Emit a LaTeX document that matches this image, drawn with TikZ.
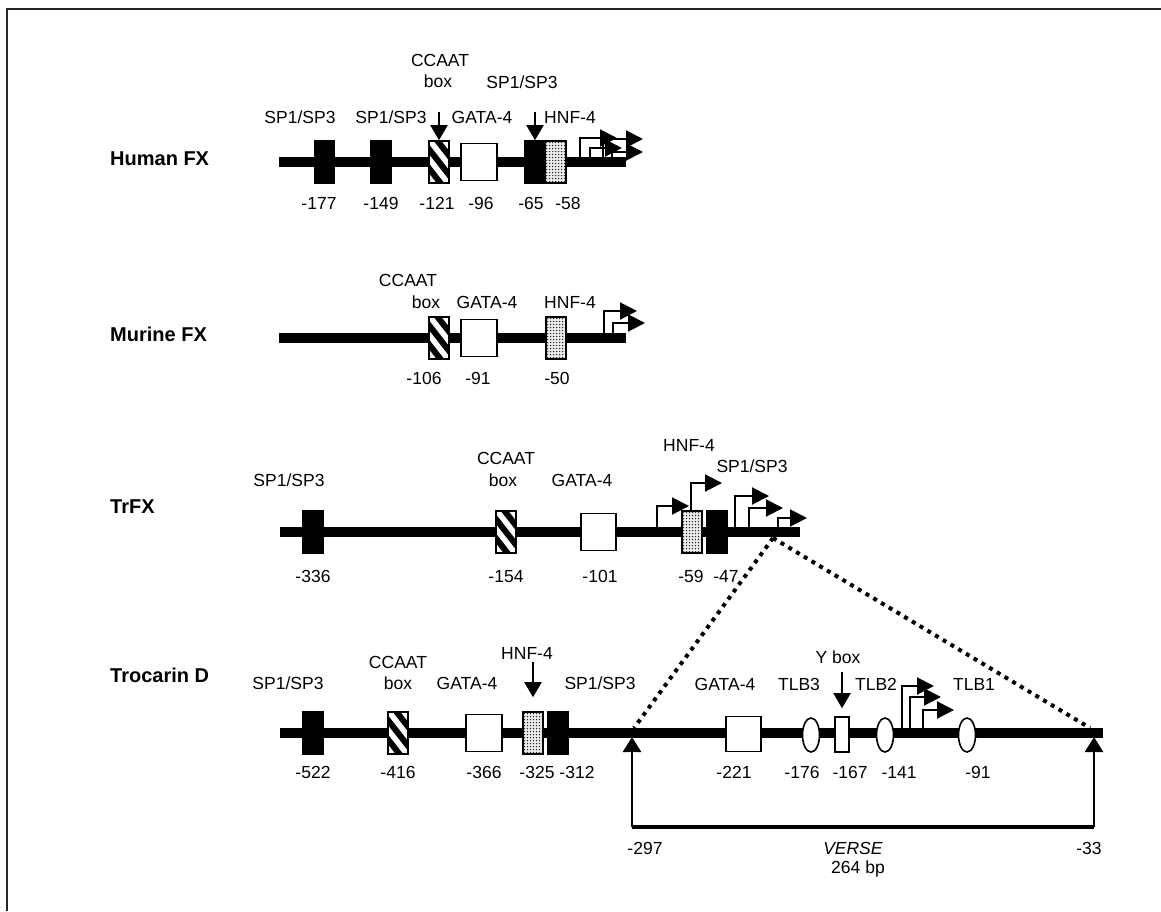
\documentclass[tikz,border=0pt]{standalone}
\usepackage{fontspec}
\setmainfont{Liberation Sans}
\usetikzlibrary{arrows.meta,shapes.geometric}
\begin{document}
\begin{tikzpicture}[x=1pt,y=-1pt,
  dna/.style={line width=10pt},
  elem/.style={draw, line width=1.6pt, inner sep=0pt, minimum width=20pt, minimum height=42pt},
  blk/.style={elem, fill=black},
  wht/.style={elem, fill=white, minimum width=36pt, minimum height=37pt},
  ybx/.style={elem, fill=white, minimum width=14pt, minimum height=35pt},
  hatchbox/.style={elem, fill=white, path picture={
     \foreach \k in {-60,-45,...,60}{\draw[line width=6pt] (path picture bounding box.center) ++(\k-25,-32) -- ++(50,64);}}},
  dotbox/.style={elem, fill=gray!15, path picture={
     \foreach \i in {0,...,7}{\foreach \j in {0,...,15}{\fill[black!85] (path picture bounding box.north west) ++(1.6+\i*3,1.6+\j*3) circle (0.75pt);}}}},
  oval/.style={ellipse, draw, fill=white, line width=1.6pt, minimum width=17pt, minimum height=34pt, inner sep=0pt},
  lbl/.style={font=\fontsize{17.5}{20}\selectfont, inner sep=0pt, text height=12.5pt, text depth=0pt},
  ttl/.style={font=\bfseries\fontsize{20}{24}\selectfont, inner sep=0pt, anchor=west, text height=14.5pt, text depth=0pt},
  tss/.style={line width=2pt, -{Triangle[length=17pt,width=17pt]}},
  down/.style={line width=2pt, -{Triangle[length=15pt,width=17pt]}},
  up/.style={line width=2.6pt, -{Triangle[length=15pt,width=18pt]}},
  dotline/.style={line width=4pt, dash pattern=on 4pt off 5pt},
]
\useasboundingbox (0,0) rectangle (1161,911);
\draw[line width=2pt, black!85] (7,911) -- (7,9) -- (1161,9);

% ---------------- Human FX
\node[ttl] (tHuman) at (110,158) {Human FX};
\coordinate (hL) at (279,162); \coordinate (hR) at (626,162);
\draw[dna] (hL) -- (hR);
\node[blk] (h1) at (324.5,162) {};
\node[blk] (h2) at (381,162) {};
\node[hatchbox] (h3) at (439,162) {};
\node[wht] (h4) at (479,162) {};
\node[blk] (h5) at (535,162) {};
\node[dotbox, minimum width=21pt] (h6) at (555.5,162) {};
\draw[down] ([yshift=28pt]h3.north) -- (h3.north);
\draw[down] ([yshift=28pt]h5.north) -- (h5.north);
\draw[tss] (580,157) |- (617,138);
\draw[tss] (590,157) |- (622,148);
\draw[tss] (603,157) |- (643,139);
\draw[tss] (612,157) |- (643,152);
\node[lbl] (hl1) at (300,117.5) {SP1/SP3};
\node[lbl] (hl2) at (391,117.5) {SP1/SP3};
\node[lbl] (hl3a) at (440,60) {CCAAT};
\node[lbl] (hl3b) at (438,81) {box};
\node[lbl] (hl4) at (482,117.5) {GATA-4};
\node[lbl] (hl5) at (522,82) {SP1/SP3};
\node[lbl] (hl6) at (570,117.5) {HNF-4};
\node[lbl] (hn1) at (319,203) {-177};
\node[lbl] (hn2) at (381,203) {-149};
\node[lbl] (hn3) at (437,203) {-121};
\node[lbl] (hn4) at (481,203) {-96};
\node[lbl] (hn5) at (531,203) {-65};
\node[lbl] (hn6) at (568,203) {-58};

% ---------------- Murine FX
\node[ttl] (tMurine) at (110,334) {Murine FX};
\coordinate (mL) at (279,338); \coordinate (mR) at (626,338);
\draw[dna] (mL) -- (mR);
\node[hatchbox] (m1) at (439,338) {};
\node[wht] (m2) at (479,338) {};
\node[dotbox] (m3) at (556,338) {};
\draw[tss] (604,333) |- (637,311);
\draw[tss] (613,333) |- (645,323);
\node[lbl] (ml1a) at (408,280) {CCAAT};
\node[lbl] (ml1b) at (426,302) {box};
\node[lbl] (ml2) at (487,302) {GATA-4};
\node[lbl] (ml3) at (570,302) {HNF-4};
\node[lbl] (mn1) at (424,378) {-106};
\node[lbl] (mn2) at (478,378) {-91};
\node[lbl] (mn3) at (557,378) {-50};

% ---------------- TrFX
\node[ttl] (tTr) at (110,506) {TrFX};
\coordinate (rL) at (280,532); \coordinate (rR) at (800,532);
\draw[dna] (rL) -- (rR);
\node[blk] (r1) at (313,532) {};
\node[hatchbox] (r2) at (506,532) {};
\node[wht, minimum width=35pt] (r3) at (598.5,532) {};
\node[dotbox] (r4) at (692,532) {};
\node[blk] (r5) at (717,532) {};
\draw[tss] (657,527) |- (689,506);
\draw[tss] (r4.north -| 691,0) |- (722,483);
\draw[tss] (735,527) |- (769,496);
\draw[tss] (749,527) |- (783,508);
\draw[tss] (778,527) |- (807,518);
\node[lbl] (rl1) at (289,480) {SP1/SP3};
\node[lbl] (rl2a) at (506,458) {CCAAT};
\node[lbl] (rl2b) at (503,480) {box};
\node[lbl] (rl3) at (582,480) {GATA-4};
\node[lbl] (rl4) at (689,445) {HNF-4};
\node[lbl] (rl5) at (752,466) {SP1/SP3};
\node[lbl] (rn1) at (313,576) {-336};
\node[lbl] (rn2) at (506,576) {-154};
\node[lbl] (rn3) at (600,576) {-101};
\node[lbl] (rn4) at (691,576) {-59};
\node[lbl] (rn5) at (726,576) {-47};

% ---------------- Trocarin D
\node[ttl] (tTro) at (110,675) {Trocarin D};
\coordinate (dL) at (280,733); \coordinate (dR) at (1103,733);
\draw[dna] (dL) -- (dR);
\node[blk] (d1) at (313,733) {};
\node[hatchbox] (d2) at (398,733) {};
\node[wht] (d3) at (484,733) {};
\node[dotbox] (d4) at (533,733) {};
\node[blk] (d5) at (558,733) {};
\node[wht, minimum width=35pt, minimum height=35pt] (d6) at (743.5,734) {};
\node[oval] (d7) at (811,735) {};
\node[ybx] (d8) at (842,734.5) {};
\node[oval] (d9) at (885,735) {};
\node[oval] (d10) at (967,735) {};
\draw[down] ([yshift=49pt]d4.north) -- ([yshift=14pt]d4.north);
\draw[down] ([yshift=44pt]d8.north) -- ([yshift=8pt]d8.north);
\draw[tss] (902,728) |- (934,686);
\draw[tss] (910,728) |- (941,697);
\draw[tss] (923,728) |- (954,710);
\node[lbl] (dl1) at (288,683) {SP1/SP3};
\node[lbl] (dl2a) at (398,662) {CCAAT};
\node[lbl] (dl2b) at (398,683) {box};
\node[lbl] (dl3) at (467,683) {GATA-4};
\node[lbl] (dl4) at (527,653) {HNF-4};
\node[lbl] (dl5) at (600,683) {SP1/SP3};
\node[lbl] (dl6) at (725,684) {GATA-4};
\node[lbl] (dl7) at (799,684) {TLB3};
\node[lbl] (dl8) at (838,657) {Y box};
\node[lbl] (dl9) at (876,684) {TLB2};
\node[lbl] (dl10) at (974,684) {TLB1};
\node[lbl] (dn1) at (313,772) {-522};
\node[lbl] (dn2) at (398,772) {-416};
\node[lbl] (dn3) at (484,772) {-366};
\node[lbl] (dn4) at (537,772) {-325};
\node[lbl] (dn5) at (577,772) {-312};
\node[lbl] (dn6) at (734,772) {-221};
\node[lbl] (dn7) at (802,772) {-176};
\node[lbl] (dn8) at (850,772) {-167};
\node[lbl] (dn9) at (899,772) {-141};
\node[lbl] (dn10) at (978,772) {-91};

% zoom lines and VERSE bracket
\coordinate (apex) at (773,538);
\coordinate (zl) at (634,728);
\coordinate (zr) at (1090,728);
\draw[dotline] (apex) -- (zl);
\draw[dotline] (apex) -- (zr);
\coordinate (bl) at (632,827); \coordinate (blt) at (632,737);
\coordinate (br) at (1094,827); \coordinate (brt) at (1094,737);
\draw[up] (bl) -- (blt);
\draw[up] (br) -- (brt);
\draw[line width=3.4pt] (bl) -- (br);
\node[lbl] (v1) at (645,848) {-297};
\node[lbl] (v2) at (1089,848) {-33};
\node[lbl] (v3) at (853,848) {\textit{VERSE}};
\node[lbl] (v4) at (858,867) {264 bp};
\end{tikzpicture}
\end{document}
